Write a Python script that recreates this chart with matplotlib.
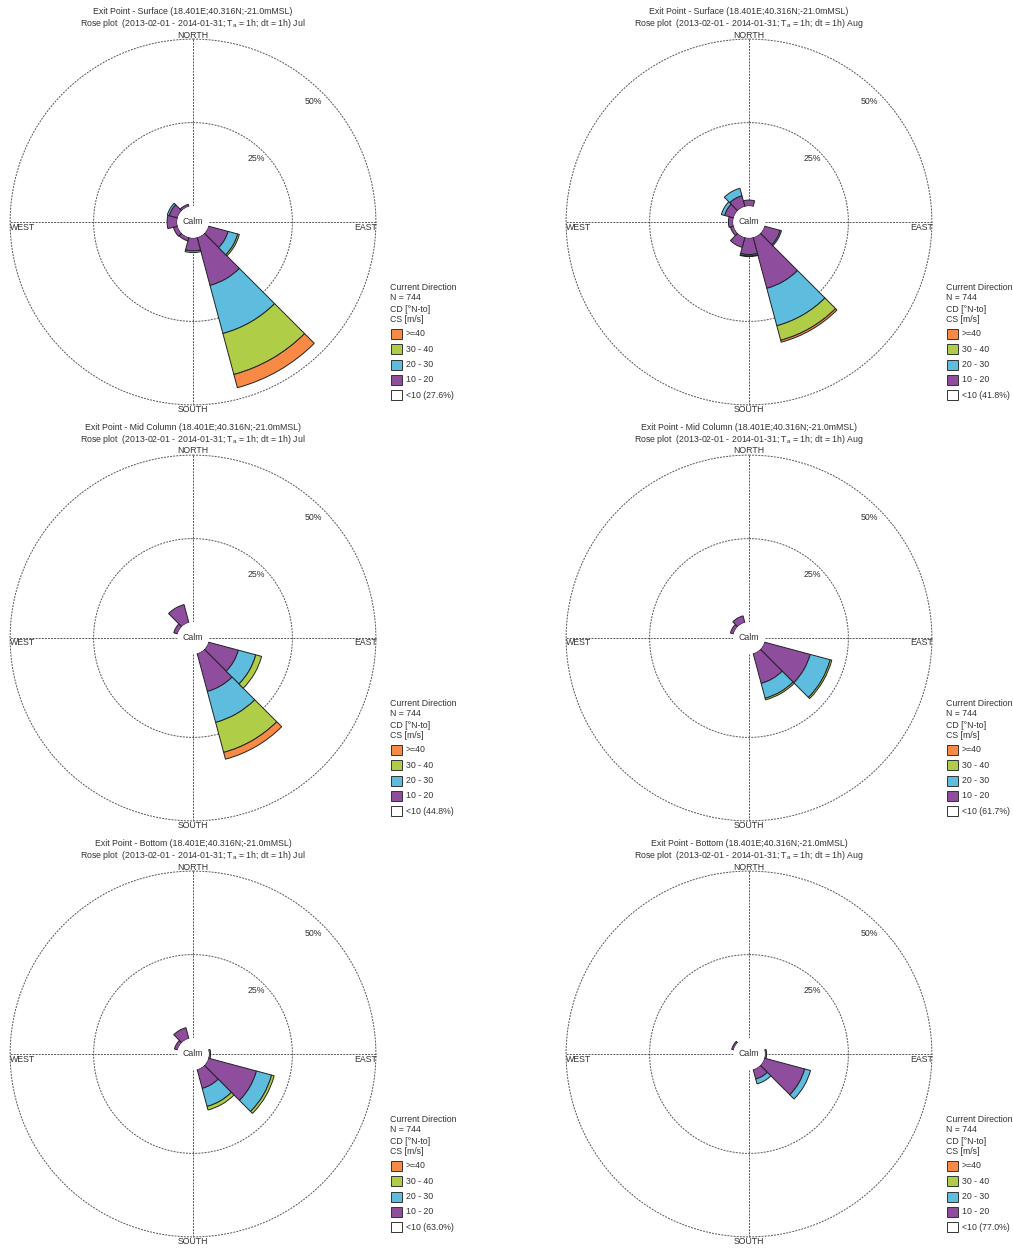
import numpy as np
import matplotlib
matplotlib.use("Agg")
import matplotlib.pyplot as plt
from matplotlib.patches import Rectangle

plt.rcParams['font.family'] = ['Liberation Sans', 'DejaVu Sans']

# ---------------- data ----------------
directions = [0, 30, 60, 90, 120, 150, 180, 210, 240, 270, 300, 330]
classes = ['10 - 20', '20 - 30', '30 - 40', '>=40']
colors = ['#8F4D9E', '#5EBCDF', '#AFCD47', '#F98A45']

# Surface - Jul (calm 27.6 %)
jul_surf_10_20 = [0, 0, 0, 0, 6.1, 14.9, 3.9, 1.1, 1.3, 3.0, 2.6, 0.7]
jul_surf_20_30 = [0, 0, 0, 0, 3.0, 14.9, 0.5, 0, 0, 0, 0.6, 0]
jul_surf_30_40 = [0, 0, 0, 0, 0.5, 12.7, 0, 0, 0, 0, 0, 0]
jul_surf_40 = [0, 0, 0, 0, 0, 4.1, 0, 0, 0, 0, 0, 0]
# Surface - Aug (calm 41.8 %)
aug_surf_10_20 = [1.8, 0, 0, 0, 4.9, 15.8, 5.0, 3.1, 1.0, 1.4, 2.8, 3.4]
aug_surf_20_30 = [0, 0, 0, 0, 0.4, 11.6, 0.4, 0, 0, 0, 1.0, 2.3]
aug_surf_30_40 = [0, 0, 0, 0, 0, 4.5, 0.2, 0, 0, 0, 0, 0]
aug_surf_40 = [0, 0, 0, 0, 0, 0.6, 0, 0, 0, 0, 0, 0]
# Mid Column - Jul (calm 44.8 %)
jul_mid_10_20 = [0, 0, 0, 0, 9.3, 11.8, 0, 0, 0, 0, 1.2, 5.6]
jul_mid_20_30 = [0, 0, 0, 0, 5.4, 9.6, 0, 0, 0, 0, 0, 0]
jul_mid_30_40 = [0, 0, 0, 0, 1.8, 9.3, 0, 0, 0, 0, 0, 0]
jul_mid_40 = [0, 0, 0, 0, 0, 2.1, 0, 0, 0, 0, 0, 0]
# Mid Column - Aug (calm 61.7 %)
aug_mid_10_20 = [0, 0, 0, 0, 14.2, 9.3, 0, 0, 0, 0, 1.0, 2.1]
aug_mid_20_30 = [0, 0, 0, 0, 6.2, 4.6, 0, 0, 0, 0, 0, 0]
aug_mid_30_40 = [0, 0, 0, 0, 0.5, 0.5, 0, 0, 0, 0, 0, 0]
aug_mid_40 = [0, 0, 0, 0, 0, 0, 0, 0, 0, 0, 0, 0]
# Bottom - Jul (calm 63.0 %)
jul_bot_10_20 = [0, 0, 0, 0.5, 14.9, 5.9, 0, 0, 0, 0, 1.0, 3.4]
jul_bot_20_30 = [0, 0, 0, 0, 4.7, 5.6, 0, 0, 0, 0, 0, 0]
jul_bot_30_40 = [0, 0, 0, 0, 0.8, 1.1, 0, 0, 0, 0, 0, 0]
jul_bot_40 = [0, 0, 0, 0, 0, 0, 0, 0, 0, 0, 0, 0]
# Bottom - Aug (calm 77.0 %)
aug_bot_10_20 = [0, 0, 0, 0.5, 12.5, 3.0, 0, 0, 0, 0, 0.6, 0]
aug_bot_20_30 = [0, 0, 0, 0, 1.8, 1.5, 0, 0, 0, 0, 0, 0]
aug_bot_30_40 = [0, 0, 0, 0, 0, 0, 0, 0, 0, 0, 0, 0]
aug_bot_40 = [0, 0, 0, 0, 0, 0, 0, 0, 0, 0, 0, 0]

levels = ['Surface', 'Mid Column', 'Bottom']
months = ['Jul', 'Aug']
calm_pct = [[27.6, 41.8], [44.8, 61.7], [63.0, 77.0]]
panel_series = [
    [[jul_surf_10_20, jul_surf_20_30, jul_surf_30_40, jul_surf_40],
     [aug_surf_10_20, aug_surf_20_30, aug_surf_30_40, aug_surf_40]],
    [[jul_mid_10_20, jul_mid_20_30, jul_mid_30_40, jul_mid_40],
     [aug_mid_10_20, aug_mid_20_30, aug_mid_30_40, aug_mid_40]],
    [[jul_bot_10_20, jul_bot_20_30, jul_bot_30_40, jul_bot_40],
     [aug_bot_10_20, aug_bot_20_30, aug_bot_30_40, aug_bot_40]],
]

# ---------------- layout ----------------
W, H = 1013, 1248
fig = plt.figure(figsize=(W / 100, H / 100), dpi=100)

def fx(x):
    return x / W

def fy(y):
    return 1 - y / H

px_per_unit = 3.34
r_origin = -4.76
r_max = 52.0
ax_rad = (r_max - r_origin) * px_per_unit
FS = 6.3
line_col = '#555555'
txt_col = '#333333'

col_cx = [193, 749]
row_cy = [222, 638, 1054]

for i, lev in enumerate(levels):
    for j, mon in enumerate(months):
        cx, cy = col_cx[j], row_cy[i]
        ax = fig.add_axes([fx(cx - ax_rad), fy(cy + ax_rad), 2 * ax_rad / W, 2 * ax_rad / H],
                          projection='polar')
        ax.set_theta_zero_location('N')
        ax.set_theta_direction(-1)
        ax.set_rorigin(r_origin)
        ax.set_ylim(0, r_max)
        ax.set_axis_off()

        th = np.linspace(0, 2 * np.pi, 400)
        for rr in (25, 50):
            ax.plot(th, np.full_like(th, rr), color=line_col, lw=0.7,
                    dashes=(2.0, 1.2), zorder=1)
        for a in (0, 90, 180, 270):
            ax.plot([np.radians(a)] * 2, [0, 50], color=line_col, lw=0.7,
                    dashes=(2.0, 1.2), zorder=1)

        theta = np.radians(directions)
        bottom = np.zeros(len(directions))
        for vals, col in zip(panel_series[i][j], colors):
            vals = np.array(vals, dtype=float)
            m = vals > 0
            if m.any():
                ax.bar(theta[m], vals[m], width=np.radians(30), bottom=bottom[m],
                       color=col, edgecolor='#222222', linewidth=0.7, zorder=3)
            bottom = bottom + vals

        ax.text(np.radians(45), 22.0, '25%', ha='center', va='center', fontsize=FS, color=txt_col)
        ax.text(np.radians(45), 46.4, '50%', ha='center', va='center', fontsize=FS, color=txt_col)
        ax.text(0.5, 0.5, 'Calm', transform=ax.transAxes, ha='center', va='center',
                fontsize=FS, color=txt_col)

        # direction labels
        fig.text(fx(cx), fy(cy - 187), 'NORTH', ha='center', va='center', fontsize=FS, color=txt_col)
        fig.text(fx(cx), fy(cy + 188), 'SOUTH', ha='center', va='center', fontsize=FS, color=txt_col)
        fig.text(fx(cx - 183), fy(cy + 5), 'WEST', ha='left', va='center', fontsize=FS, color=txt_col)
        fig.text(fx(cx + 184), fy(cy + 5), 'EAST', ha='right', va='center', fontsize=FS, color=txt_col)

        # title
        fig.text(fx(cx), fy(cy - 210), 'Exit Point - %s (18.401E;40.316N;-21.0mMSL)' % lev,
                 ha='center', va='center', fontsize=FS, color=txt_col)
        fig.text(fx(cx), fy(cy - 199),
                 r'Rose plot  (2013-02-01 - 2014-01-31; T$_\mathregular{a}$ = 1h; dt = 1h) ' + mon,
                 ha='center', va='center', fontsize=FS, color=txt_col)

        # legend
        lx = cx + 197
        ly = cy + 65
        head = ['Current Direction', 'N = 744', 'CD [\u00b0N-to]', 'CS [m/s]']
        for k, t in enumerate(head):
            fig.text(fx(lx), fy(ly + k * 11), t, ha='left', va='center', fontsize=FS, color=txt_col)
        leg_labels = ['>=40', '30 - 40', '20 - 30', '10 - 20', '<10 (%.1f%%)' % calm_pct[i][j]]
        leg_cols = [colors[3], colors[2], colors[1], colors[0], 'white']
        for k, (t, c) in enumerate(zip(leg_labels, leg_cols)):
            yc = ly + 47 + k * 15.3
            fig.patches.append(Rectangle((fx(lx + 1), fy(yc + 5)), 11 / W, 10 / H,
                                         transform=fig.transFigure, facecolor=c,
                                         edgecolor='#333333', linewidth=0.7))
            fig.text(fx(lx + 16), fy(yc), t, ha='left', va='center', fontsize=FS, color=txt_col)

fig.savefig('out.png', dpi=100)
